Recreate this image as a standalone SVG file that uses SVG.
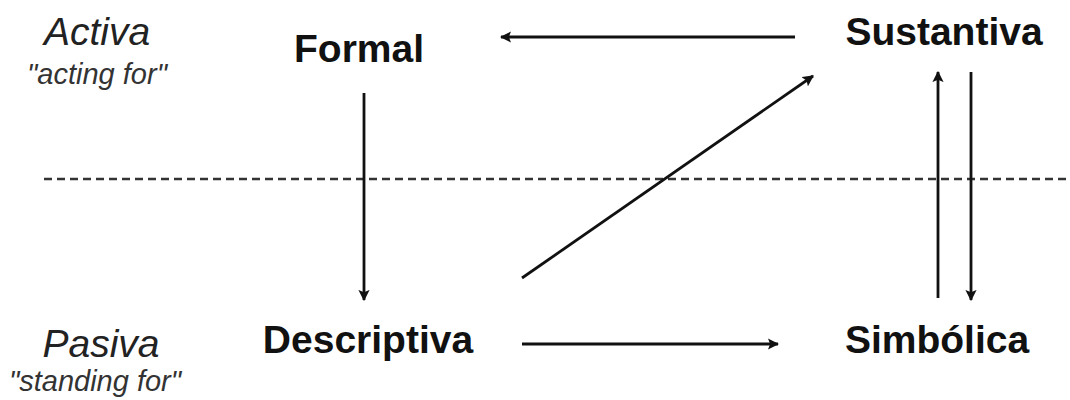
<svg xmlns="http://www.w3.org/2000/svg" width="1070" height="400" viewBox="0 0 1070 400">
<style>
.node{font-family:"Liberation Sans",Arial,sans-serif;font-weight:bold;font-size:39px;fill:#111;text-anchor:middle}
.lbl{font-family:"Liberation Sans",Arial,sans-serif;font-style:italic;font-size:39px;fill:#222;text-anchor:middle}
.sub{font-family:"Liberation Sans",Arial,sans-serif;font-style:italic;font-size:29px;fill:#333;text-anchor:middle}
.conn{stroke:#111;stroke-width:2.8;fill:none;marker-end:url(#ah)}
.dash{stroke:#333;stroke-width:2.4;stroke-dasharray:8 5;fill:none}
</style>
<defs>
<marker id="ah" viewBox="0 0 10 10" refX="9" refY="5" markerWidth="4" markerHeight="4" orient="auto" markerUnits="strokeWidth">
<path d="M0,0 L10,5 L0,10 L2,5 Z" fill="#111"/>
</marker>
</defs>
<rect width="1070" height="400" fill="#fff"/>
<g id="levels">
<text class="lbl" x="97" y="45">Activa</text>
<text class="sub" x="97" y="84">"acting for"</text>
<text class="lbl" x="101" y="357">Pasiva</text>
<text class="sub" x="95" y="391">"standing for"</text>
</g>
<line class="dash" x1="44" y1="179" x2="1070" y2="179"/>
<g id="node-formal"><text class="node" x="359" y="62">Formal</text></g>
<g id="node-sustantiva"><text class="node" x="944" y="45">Sustantiva</text></g>
<g id="node-descriptiva"><text class="node" x="368" y="353">Descriptiva</text></g>
<g id="node-simbolica"><text class="node" x="937" y="353">Simbólica</text></g>
<g id="connectors">
<line class="conn" x1="795" y1="37" x2="501" y2="37"/>
<line class="conn" x1="522" y1="278" x2="813" y2="76"/>
<line class="conn" x1="364" y1="93" x2="364" y2="300"/>
<line class="conn" x1="938" y1="298" x2="938" y2="72"/>
<line class="conn" x1="971" y1="72" x2="971" y2="300"/>
<line class="conn" x1="522" y1="344" x2="778" y2="344"/>
</g>
</svg>
